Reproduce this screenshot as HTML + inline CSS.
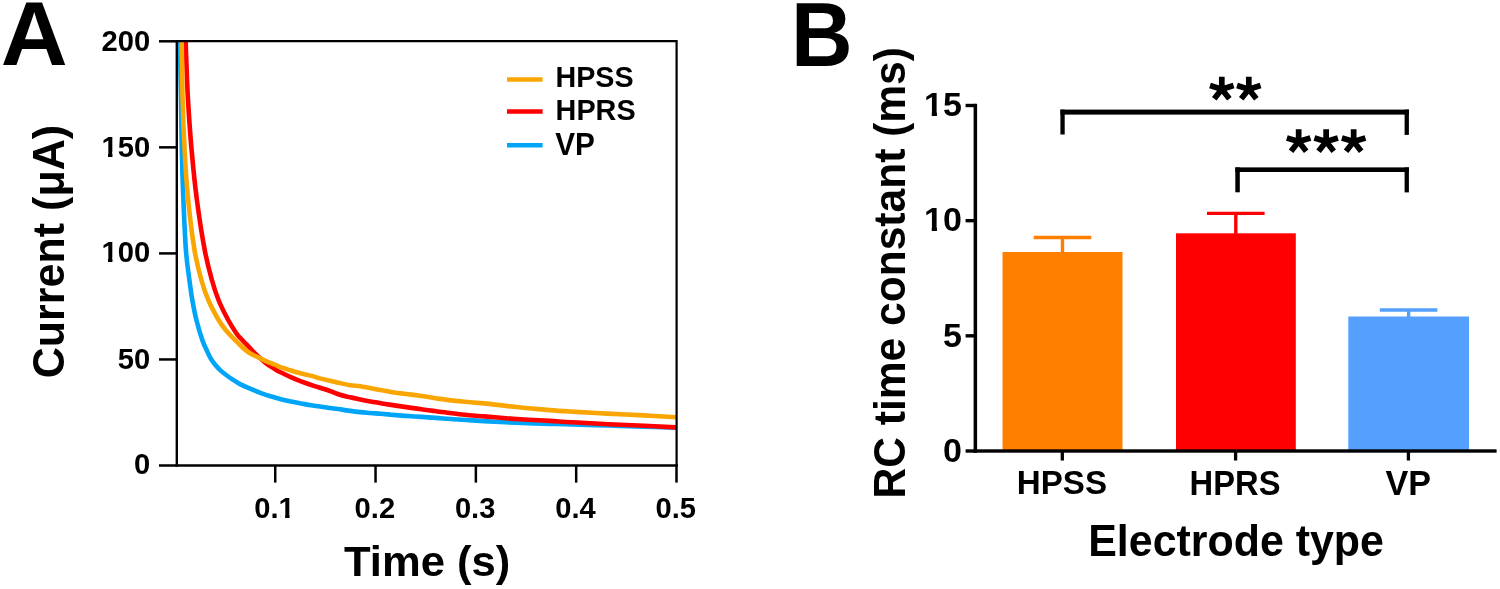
<!DOCTYPE html>
<html><head><meta charset="utf-8"><style>
html,body{margin:0;padding:0;background:#fff;width:1500px;height:589px;overflow:hidden}
svg{display:block;will-change:transform}
</style></head><body>
<svg width="1500" height="589" viewBox="0 0 1500 589">
<rect width="1500" height="589" fill="#fff"/>
<text transform="translate(0.65,65.30) scale(1.0259,1)" font-size="90.34" font-family="Liberation Sans, sans-serif" font-weight="bold">A</text>
<defs><clipPath id="cp"><rect x="176" y="41" width="501" height="424"/></clipPath></defs>
<g clip-path="url(#cp)" fill="none" stroke-width="4.6" stroke-linejoin="round">
<path d="M179.3,30.0 C179.3,31.8 179.3,36.0 179.5,41.0 C179.7,46.0 179.9,50.2 180.2,60.0 C180.4,69.8 180.7,85.0 181.0,100.0 C181.3,115.0 181.4,133.3 181.8,150.0 C182.2,166.7 182.7,183.3 183.4,200.0 C184.1,216.7 184.9,236.7 185.9,250.0 C186.9,263.3 188.3,271.7 189.4,280.0 C190.5,288.3 191.1,293.3 192.3,300.0 C193.5,306.7 194.7,313.3 196.4,320.0 C198.1,326.7 200.6,335.0 202.3,340.0 C204.0,345.0 205.3,347.1 206.6,350.0 C207.9,352.9 208.8,355.2 210.2,357.6 C211.6,360.0 213.1,362.2 214.8,364.3 C216.5,366.4 218.3,368.4 220.4,370.4 C222.5,372.3 225.5,374.5 227.5,376.0 C229.5,377.5 230.5,378.1 232.6,379.5 C234.7,380.9 237.1,382.6 240.0,384.1 C242.9,385.6 246.8,387.2 250.2,388.6 C253.6,390.1 257.0,391.5 260.4,392.8 C263.8,394.1 267.2,395.2 270.6,396.3 C274.0,397.4 277.4,398.3 280.8,399.2 C284.2,400.1 287.6,400.8 291.0,401.5 C294.4,402.2 297.7,402.9 301.1,403.5 C304.5,404.1 307.9,404.8 311.3,405.3 C314.7,405.9 318.1,406.3 321.5,406.8 C324.9,407.3 328.6,407.8 331.7,408.2 C334.8,408.6 336.9,408.9 340.0,409.3 C343.1,409.8 346.8,410.4 350.2,410.9 C353.6,411.4 357.0,411.8 360.4,412.1 C363.8,412.5 367.2,412.7 370.6,413.0 C374.0,413.3 377.4,413.5 380.8,413.8 C384.2,414.1 387.6,414.4 391.0,414.7 C394.4,415.0 397.7,415.3 401.1,415.6 C404.5,415.9 407.9,416.1 411.3,416.3 C414.7,416.5 416.7,416.6 421.5,416.9 C426.3,417.2 433.2,417.7 440.0,418.2 C446.8,418.7 454.7,419.2 462.0,419.7 C469.3,420.2 476.7,420.7 484.0,421.1 C491.3,421.5 498.7,421.9 506.0,422.3 C513.3,422.7 520.7,423.0 528.0,423.3 C535.3,423.6 542.7,423.7 550.0,423.9 C557.3,424.1 562.3,424.2 572.0,424.5 C581.7,424.8 596.0,425.1 608.0,425.5 C620.0,425.9 632.7,426.2 644.0,426.6 C655.3,427.0 670.7,427.6 676.0,427.8" stroke="#00A5F7"/>
<path d="M185.5,30.0 C185.5,31.8 185.6,36.0 185.7,41.0 C185.8,46.0 185.9,50.2 186.3,60.0 C186.7,69.8 187.1,85.0 188.0,100.0 C188.9,115.0 190.1,133.3 191.6,150.0 C193.1,166.7 194.7,183.3 196.9,200.0 C199.1,216.7 202.2,236.7 204.7,250.0 C207.2,263.3 209.6,271.7 211.9,280.0 C214.2,288.3 215.8,293.3 218.5,300.0 C221.2,306.7 225.2,314.4 228.2,320.0 C231.2,325.6 234.3,330.3 236.5,333.5 C238.7,336.7 239.7,337.2 241.3,339.0 C242.9,340.8 244.5,342.4 246.2,344.2 C247.9,345.9 249.7,347.8 251.3,349.5 C252.9,351.2 254.5,352.8 256.0,354.3 C257.5,355.8 258.9,357.1 260.5,358.5 C262.1,359.9 263.7,361.3 265.3,362.6 C266.9,363.9 268.7,365.2 270.4,366.4 C272.1,367.5 273.8,368.5 275.5,369.5 C277.2,370.5 278.2,371.1 280.6,372.3 C283.1,373.5 286.9,375.4 290.2,376.9 C293.5,378.4 297.0,379.9 300.4,381.2 C303.8,382.5 307.2,383.7 310.6,384.8 C314.0,385.9 317.6,387.0 320.8,388.0 C324.0,389.0 326.8,389.9 330.0,391.0 C333.2,392.1 336.6,393.8 340.0,394.8 C343.4,395.9 346.8,396.5 350.2,397.3 C353.6,398.1 357.0,398.7 360.4,399.4 C363.8,400.1 367.2,400.8 370.6,401.4 C374.0,402.0 377.4,402.7 380.8,403.3 C384.2,403.9 387.6,404.4 391.0,404.9 C394.4,405.4 397.7,405.9 401.1,406.4 C404.5,406.9 407.9,407.4 411.3,407.9 C414.7,408.4 418.1,408.9 421.5,409.3 C424.9,409.8 428.6,410.2 431.7,410.6 C434.8,411.0 434.9,411.2 440.0,411.8 C445.1,412.4 454.7,413.7 462.0,414.5 C469.3,415.3 476.7,415.8 484.0,416.4 C491.3,417.0 498.7,417.6 506.0,418.2 C513.3,418.8 520.7,419.2 528.0,419.7 C535.3,420.1 542.7,420.5 550.0,420.9 C557.3,421.3 562.3,421.8 572.0,422.3 C581.7,422.9 596.0,423.6 608.0,424.2 C620.0,424.8 632.7,425.3 644.0,425.8 C655.3,426.3 670.7,427.1 676.0,427.4" stroke="#FF0000"/>
<path d="M181.4,30.0 C181.4,31.8 181.5,36.0 181.6,41.0 C181.7,46.0 181.8,50.2 182.0,60.0 C182.2,69.8 182.2,85.0 182.6,100.0 C183.0,115.0 183.7,133.3 184.6,150.0 C185.5,166.7 186.5,183.3 188.2,200.0 C189.8,216.7 192.3,236.7 194.5,250.0 C196.7,263.3 199.1,271.7 201.4,280.0 C203.7,288.3 205.4,293.3 208.3,300.0 C211.2,306.7 215.6,314.8 218.6,320.0 C221.6,325.2 223.8,327.7 226.5,331.0 C229.2,334.3 232.7,337.5 235.1,340.0 C237.5,342.5 239.2,344.2 241.1,346.0 C242.9,347.8 244.5,349.3 246.2,350.6 C247.9,351.9 249.7,353.1 251.3,354.0 C252.9,354.9 254.2,355.5 255.8,356.3 C257.4,357.1 259.1,357.8 260.8,358.6 C262.5,359.4 264.3,360.3 266.0,361.1 C267.7,361.9 269.3,362.5 271.0,363.2 C272.7,363.9 274.4,364.5 276.0,365.1 C277.6,365.8 278.7,366.5 280.3,367.1 C281.9,367.7 284.1,368.3 285.7,368.8 C287.3,369.3 287.8,369.6 290.2,370.3 C292.6,371.1 297.0,372.4 300.4,373.3 C303.8,374.2 307.2,374.7 310.6,375.6 C314.0,376.5 317.4,377.7 320.8,378.6 C324.2,379.5 327.7,380.1 330.9,380.9 C334.1,381.6 336.8,382.4 340.0,383.1 C343.2,383.8 346.8,384.7 350.2,385.2 C353.6,385.7 357.0,385.7 360.4,386.2 C363.8,386.7 367.2,387.7 370.6,388.3 C374.0,388.9 377.4,389.4 380.8,390.0 C384.2,390.6 387.6,391.3 391.0,391.9 C394.4,392.5 397.7,392.9 401.1,393.4 C404.5,393.8 407.9,394.2 411.3,394.6 C414.7,395.0 418.1,395.5 421.5,396.0 C424.9,396.5 428.6,397.1 431.7,397.6 C434.8,398.1 434.9,398.2 440.0,398.9 C445.1,399.5 454.7,400.8 462.0,401.5 C469.3,402.2 476.7,402.7 484.0,403.4 C491.3,404.1 498.7,405.1 506.0,405.9 C513.3,406.7 520.7,407.5 528.0,408.2 C535.3,408.9 542.7,409.5 550.0,410.1 C557.3,410.7 562.3,411.0 572.0,411.6 C581.7,412.2 596.0,413.0 608.0,413.6 C620.0,414.2 632.7,414.8 644.0,415.4 C655.3,416.0 670.7,416.9 676.0,417.2" stroke="#F9A602"/>
</g>
<g stroke="#000" fill="none">
<path d="M176.5,41.2 H676.6 V465.5" stroke-width="2.2"/>
<path d="M176.8,40.1 V466.4" stroke-width="2.4"/>
<path d="M175.5,465.5 H677.9" stroke-width="2.6"/>
<path d="M159,41.30 H177" stroke-width="2.5"/>
<path d="M159,147.35 H177" stroke-width="2.5"/>
<path d="M159,253.40 H177" stroke-width="2.5"/>
<path d="M159,359.45 H177" stroke-width="2.5"/>
<path d="M159,465.50 H177" stroke-width="2.5"/>
<path d="M275.22,465 V482.6" stroke-width="2.5"/>
<path d="M375.54,465 V482.6" stroke-width="2.5"/>
<path d="M475.86,465 V482.6" stroke-width="2.5"/>
<path d="M576.18,465 V482.6" stroke-width="2.5"/>
<path d="M676.50,465 V482.6" stroke-width="2.5"/>
</g>
<text transform="translate(150.12,51.40) scale(0.9802,1)" font-size="29.78" text-anchor="end" font-family="Liberation Sans, sans-serif" font-weight="bold">200</text>
<text transform="translate(150.12,156.85) scale(0.9802,1)" font-size="29.78" text-anchor="end" font-family="Liberation Sans, sans-serif" font-weight="bold">150</text>
<rect x="102.99" y="152.05" width="5.02" height="6.00" fill="#fff"/>
<rect x="112.46" y="152.05" width="5.34" height="6.00" fill="#fff"/>
<text transform="translate(150.12,262.20) scale(0.9802,1)" font-size="29.78" text-anchor="end" font-family="Liberation Sans, sans-serif" font-weight="bold">100</text>
<rect x="102.99" y="257.40" width="5.02" height="6.00" fill="#fff"/>
<rect x="112.46" y="257.40" width="5.34" height="6.00" fill="#fff"/>
<text transform="translate(150.12,368.85) scale(0.9802,1)" font-size="29.78" text-anchor="end" font-family="Liberation Sans, sans-serif" font-weight="bold">50</text>
<text transform="translate(150.12,474.00) scale(0.9802,1)" font-size="29.78" text-anchor="end" font-family="Liberation Sans, sans-serif" font-weight="bold">0</text>
<text transform="translate(274.52,518.40) scale(0.9900,1)" font-size="29.40" text-anchor="middle" font-family="Liberation Sans, sans-serif" font-weight="bold">0.1</text>
<rect x="280.13" y="513.66" width="5.00" height="5.94" fill="#fff"/>
<rect x="289.58" y="513.66" width="5.33" height="5.94" fill="#fff"/>
<text transform="translate(374.84,518.40) scale(0.9900,1)" font-size="29.40" text-anchor="middle" font-family="Liberation Sans, sans-serif" font-weight="bold">0.2</text>
<text transform="translate(475.16,518.40) scale(0.9900,1)" font-size="29.40" text-anchor="middle" font-family="Liberation Sans, sans-serif" font-weight="bold">0.3</text>
<text transform="translate(575.48,518.40) scale(0.9900,1)" font-size="29.40" text-anchor="middle" font-family="Liberation Sans, sans-serif" font-weight="bold">0.4</text>
<text transform="translate(675.80,518.40) scale(0.9900,1)" font-size="29.40" text-anchor="middle" font-family="Liberation Sans, sans-serif" font-weight="bold">0.5</text>
<text transform="translate(344.03,576.47) scale(1.0031,1)" font-size="43.45" font-family="Liberation Sans, sans-serif" font-weight="bold">Time (s)</text>
<text transform="translate(63.67,378.28) rotate(-90) scale(0.9889,1)" font-size="43.54" font-family="Liberation Sans, sans-serif" font-weight="bold">Current (μA)</text>
<path d="M507,79.4 H542.6" stroke="#F9A602" stroke-width="4.5"/>
<text transform="translate(555.50,87.17) scale(0.9876,1)" font-size="29.07" font-family="Liberation Sans, sans-serif" font-weight="bold">HPSS</text>
<path d="M507,111.6 H542.6" stroke="#FF0000" stroke-width="4.5"/>
<text transform="translate(555.60,120.38) scale(0.9953,1)" font-size="28.93" font-family="Liberation Sans, sans-serif" font-weight="bold">HPRS</text>
<path d="M507,145.3 H542.6" stroke="#00A5F7" stroke-width="4.5"/>
<text transform="translate(555.23,154.50) scale(0.9560,1)" font-size="31.10" font-family="Liberation Sans, sans-serif" font-weight="bold">VP</text>
<text transform="translate(791.05,65.50) scale(0.9448,1)" font-size="90.26" font-family="Liberation Sans, sans-serif" font-weight="bold">B</text>
<rect x="1002.5" y="252.0" width="120.0" height="199.0" fill="#FF8000"/>
<path d="M1062.5,252.5 V237.5 M1033.7,237.5 H1091.3" stroke="#FF8000" stroke-width="3.4"/>
<rect x="1176.0" y="233.3" width="119.8" height="217.7" fill="#FF0000"/>
<path d="M1235.8,233.8 V213.4 M1207.0,213.4 H1264.6" stroke="#FF0000" stroke-width="3.4"/>
<rect x="1348.3" y="316.5" width="120.7" height="134.5" fill="#55A0FE"/>
<path d="M1408.6,317.0 V310.0 M1379.8,310.0 H1437.4" stroke="#55A0FE" stroke-width="3.4"/>
<g fill="#000">
<rect x="973.6" y="103.8" width="3.5" height="348.9"/>
<rect x="973.6" y="449.3" width="523" height="3.4"/>
<rect x="965.6" y="449.30" width="10" height="3.4"/>
<rect x="965.6" y="334.13" width="10" height="3.4"/>
<rect x="965.6" y="218.97" width="10" height="3.4"/>
<rect x="965.6" y="103.80" width="10" height="3.4"/>
<rect x="1060.65" y="451" width="3.3" height="9.5"/>
<rect x="1233.95" y="451" width="3.3" height="9.5"/>
<rect x="1406.75" y="451" width="3.3" height="9.5"/>
<rect x="1060.4" y="109.6" width="348.5" height="5.0"/>
<rect x="1060.4" y="109.6" width="4.3" height="24.9"/>
<rect x="1404.6" y="109.6" width="4.3" height="25.3"/>
<rect x="1235.3" y="167.4" width="173.6" height="4.6"/>
<rect x="1235.3" y="167.4" width="4.5" height="24.9"/>
<rect x="1404.6" y="167.4" width="4.3" height="25.0"/>
</g>
<text transform="translate(961.90,461.80) scale(1.0021,1)" font-size="33.93" text-anchor="end" font-family="Liberation Sans, sans-serif" font-weight="bold">0</text>
<text transform="translate(961.90,346.63) scale(1.0021,1)" font-size="33.93" text-anchor="end" font-family="Liberation Sans, sans-serif" font-weight="bold">5</text>
<text transform="translate(961.90,231.47) scale(1.0021,1)" font-size="33.93" text-anchor="end" font-family="Liberation Sans, sans-serif" font-weight="bold">10</text>
<rect x="925.91" y="226.00" width="5.84" height="6.67" fill="#fff"/>
<rect x="936.95" y="226.00" width="6.23" height="6.67" fill="#fff"/>
<text transform="translate(961.90,116.30) scale(1.0021,1)" font-size="33.93" text-anchor="end" font-family="Liberation Sans, sans-serif" font-weight="bold">15</text>
<rect x="925.91" y="110.83" width="5.84" height="6.67" fill="#fff"/>
<rect x="936.95" y="110.83" width="6.23" height="6.67" fill="#fff"/>
<text transform="translate(1016.80,494.28) scale(0.9955,1)" font-size="33.28" font-family="Liberation Sans, sans-serif" font-weight="bold">HPSS</text>
<text transform="translate(1189.62,494.88) scale(0.9423,1)" font-size="34.70" font-family="Liberation Sans, sans-serif" font-weight="bold">HPRS</text>
<text transform="translate(1385.40,495.00) scale(0.9614,1)" font-size="35.54" font-family="Liberation Sans, sans-serif" font-weight="bold">VP</text>
<text transform="translate(1088.23,555.85) scale(0.9870,1)" font-size="43.48" font-family="Liberation Sans, sans-serif" font-weight="bold">Electrode type</text>
<text transform="translate(904.75,498.43) rotate(-90) scale(0.9676,1)" font-size="43.96" font-family="Liberation Sans, sans-serif" font-weight="bold">RC time constant (ms)</text>
<path d="M1224.65,89.15 L1224.65,76.85 L1218.95,76.85 L1218.95,89.15Z M1222.63,91.88 L1234.40,88.28 L1232.73,82.83 L1220.97,86.42Z M1222.63,86.42 L1210.87,82.83 L1209.20,88.28 L1220.97,91.88Z M1219.55,87.40 L1211.98,97.09 L1216.47,100.60 L1224.05,90.90Z M1219.55,90.90 L1227.13,100.60 L1231.62,97.09 L1224.05,87.40Z" fill="#000"/>
<path d="M1251.65,89.15 L1251.65,76.85 L1245.95,76.85 L1245.95,89.15Z M1249.63,91.88 L1261.40,88.28 L1259.73,82.83 L1247.97,86.42Z M1249.63,86.42 L1237.87,82.83 L1236.20,88.28 L1247.97,91.88Z M1246.55,87.40 L1238.98,97.09 L1243.47,100.60 L1251.05,90.90Z M1246.55,90.90 L1254.13,100.60 L1258.62,97.09 L1251.05,87.40Z" fill="#000"/>
<path d="M1301.50,141.60 L1301.50,129.30 L1295.80,129.30 L1295.80,141.60Z M1299.48,144.33 L1311.25,140.73 L1309.58,135.28 L1297.82,138.87Z M1299.48,138.87 L1287.72,135.28 L1286.05,140.73 L1297.82,144.33Z M1296.40,139.85 L1288.83,149.54 L1293.32,153.05 L1300.90,143.35Z M1296.40,143.35 L1303.98,153.05 L1308.47,149.54 L1300.90,139.85Z" fill="#000"/>
<path d="M1329.00,141.60 L1329.00,129.30 L1323.30,129.30 L1323.30,141.60Z M1326.98,144.33 L1338.75,140.73 L1337.08,135.28 L1325.32,138.87Z M1326.98,138.87 L1315.22,135.28 L1313.55,140.73 L1325.32,144.33Z M1323.90,139.85 L1316.33,149.54 L1320.82,153.05 L1328.40,143.35Z M1323.90,143.35 L1331.48,153.05 L1335.97,149.54 L1328.40,139.85Z" fill="#000"/>
<path d="M1356.50,141.60 L1356.50,129.30 L1350.80,129.30 L1350.80,141.60Z M1354.48,144.33 L1366.25,140.73 L1364.58,135.28 L1352.82,138.87Z M1354.48,138.87 L1342.72,135.28 L1341.05,140.73 L1352.82,144.33Z M1351.40,139.85 L1343.83,149.54 L1348.32,153.05 L1355.90,143.35Z M1351.40,143.35 L1358.98,153.05 L1363.47,149.54 L1355.90,139.85Z" fill="#000"/>
</svg>
</body></html>
